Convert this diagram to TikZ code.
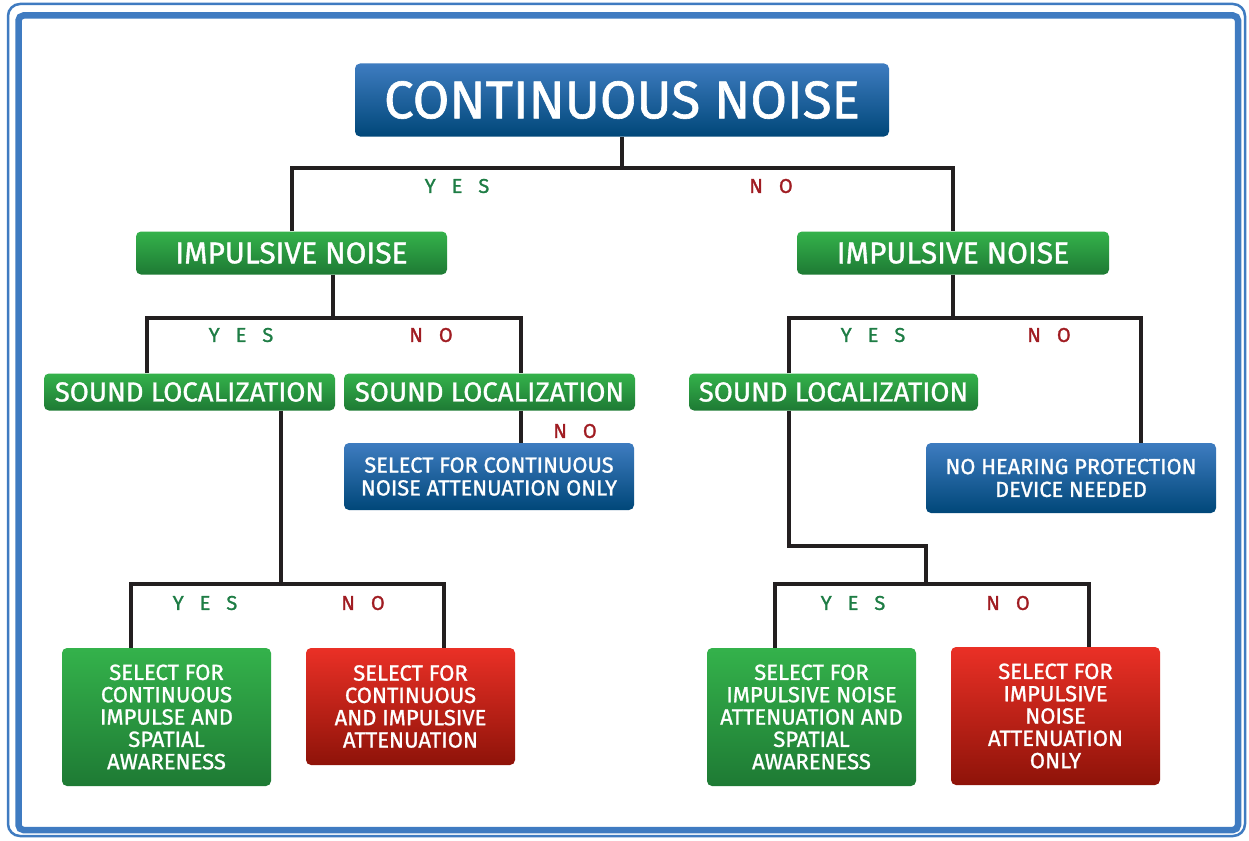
\documentclass[tikz,border=0pt]{standalone}
\usepackage{fontspec}
\setmainfont{Fira Sans}[BoldFont={Fira Sans}, BoldFeatures={FakeBold=1.2}]
\usetikzlibrary{calc}
\definecolor{gtop}{HTML}{34B24B}
\definecolor{gbot}{HTML}{1E7A34}
\definecolor{btop}{HTML}{3E7CC0}
\definecolor{bmid}{HTML}{005C9E}
\definecolor{bbot}{HTML}{004779}
\definecolor{rtop}{HTML}{EA3026}
\definecolor{rbot}{HTML}{8E1309}
\definecolor{yescol}{HTML}{1E7D45}
\definecolor{nocol}{HTML}{A01C22}
\definecolor{linecol}{HTML}{231F20}
\definecolor{bordcol}{HTML}{3F7BC1}
\tikzset{
  box/.style={rounded corners=5pt, text=white, inner sep=0pt, align=center},
  gbox/.style={box, top color=gtop, bottom color=gbot},
  bbox/.style={box, top color=btop, middle color=bmid, bottom color=bbot},
  rbox/.style={box, top color=rtop, bottom color=rbot},
  conn/.style={draw=linecol, line width=4pt, line join=miter},
  yeslab/.style={text=yescol, font=\fontsize{20}{22}\selectfont\bfseries, inner sep=0pt},
  nolab/.style={text=nocol, font=\fontsize{20}{22}\selectfont\bfseries, inner sep=0pt},
  bord/.style={draw=bordcol},
  ftitle/.style={font=\fontsize{53}{60}\selectfont\bfseries},
  fimp/.style={font=\fontsize{30}{35}\selectfont\bfseries},
  fsl/.style={font=\fontsize{27.5}{32}\selectfont\bfseries},
  fmid/.style={font=\fontsize{21.8}{22.8}\selectfont\bfseries},
  flow/.style={font=\fontsize{22}{22.3}\selectfont\bfseries}
}
\newcommand\yestxt{Y\kern16pt E\kern16pt S}
\newcommand\notxt{N\kern16pt O}
\begin{document}
\begin{tikzpicture}[x=1pt,y=-1pt]
\useasboundingbox (0,0) rectangle (1249,840);
\fill[white] (0,0) rectangle (1249,840);
\draw[bord, line width=2.5pt, rounded corners=12pt] (8,4) rectangle (1245,836);
\draw[bord, line width=6.5pt, rounded corners=5pt] (18.5,15.5) rectangle (1238,830);

% nodes
\node[bbox, ftitle, minimum width=534pt, minimum height=73pt] (title) at (622,100) {CONTINUOUS NOISE};
\node[gbox, fimp, minimum width=311pt, minimum height=43pt] (imp1) at (291.5,253) {IMPULSIVE NOISE};
\node[gbox, fimp, minimum width=312pt, minimum height=43pt] (imp2) at (953,253) {IMPULSIVE NOISE};
\node[gbox, fsl, minimum width=291pt, minimum height=37pt] (sl1) at (189.5,392) {SOUND LOCALIZATION};
\node[gbox, fsl, minimum width=291pt, minimum height=37pt] (sl2) at (489.5,392) {SOUND LOCALIZATION};
\node[gbox, fsl, minimum width=289pt, minimum height=37pt] (sl3) at (833.5,392) {SOUND LOCALIZATION};
\node[bbox, fmid, minimum width=290pt, minimum height=67pt] (cnao) at (489,476.5) {SELECT FOR CONTINUOUS\\NOISE ATTENUATION ONLY};
\node[bbox, fmid, minimum width=290pt, minimum height=70pt] (nhpd) at (1071,478) {NO HEARING PROTECTION\\DEVICE NEEDED};
\node[gbox, flow, minimum width=209pt, minimum height=138pt] (g1) at (166.5,717) {SELECT FOR\\CONTINUOUS\\IMPULSE AND\\SPATIAL\\AWARENESS};
\node[rbox, flow, minimum width=209pt, minimum height=117pt] (r1) at (410.5,706.5) {SELECT FOR\\CONTINUOUS\\AND IMPULSIVE\\ATTENUATION};
\node[gbox, flow, minimum width=209pt, minimum height=138pt] (g2) at (811.5,717) {SELECT FOR\\IMPULSIVE NOISE\\ATTENUATION AND\\SPATIAL\\AWARENESS};
\node[rbox, flow, minimum width=209pt, minimum height=138pt] (r2) at (1055.5,716) {SELECT FOR\\IMPULSIVE\\NOISE\\ATTENUATION\\ONLY};

% labels
\node[yeslab] (y1) at (457,186) {\yestxt};
\node[nolab] (n1) at (771,186) {\notxt};
\node[yeslab] (y2) at (241,335) {\yestxt};
\node[nolab] (n2) at (431,335) {\notxt};
\node[nolab] (n3) at (575,431) {\notxt};
\node[yeslab] (y4) at (873,335) {\yestxt};
\node[nolab] (n4) at (1049,335) {\notxt};
\node[yeslab] (y5) at (205,603) {\yestxt};
\node[nolab] (n5) at (363,603) {\notxt};
\node[yeslab] (y6) at (853,603) {\yestxt};
\node[nolab] (n6) at (1008,603) {\notxt};

% junction coordinates
\coordinate (j1) at (622,168);
\coordinate (j2) at (333,318);
\coordinate (j3) at (953,318);
\coordinate (j4) at (281,584);
\coordinate (j5) at (926,584);
\coordinate (k5) at (789,546);
\coordinate (c131) at (131,0);
\coordinate (c147) at (147,0);
\coordinate (c444) at (444,0);
\coordinate (c521) at (521,0);
\coordinate (c775) at (775,0);
\coordinate (c789) at (789,0);
\coordinate (c1089) at (1089,0);
\coordinate (c1141) at (1141,0);

% connectors
\draw[conn] (title.south) -- (j1);
\draw[conn] (imp1.north) |- (j1) -| (imp2.north);
\draw[conn] (imp1.south -| j2) -- (j2);
\draw[conn] (sl1.north -| c147) |- (j2) -| (sl2.north -| c521);
\draw[conn] (sl2.south -| c521) -- (cnao.north -| c521);
\draw[conn] (imp2.south) -- (j3);
\draw[conn] (sl3.north -| c789) |- (j3) -| (nhpd.north -| c1141);
\draw[conn] (sl1.south -| j4) -- (j4);
\draw[conn] (g1.north -| c131) |- (j4) -| (r1.north -| c444);
\draw[conn] (sl3.south -| k5) -- (k5) -| (j5);
\draw[conn] (g2.north -| c775) |- (j5) -| (r2.north -| c1089);
\end{tikzpicture}
\end{document}
